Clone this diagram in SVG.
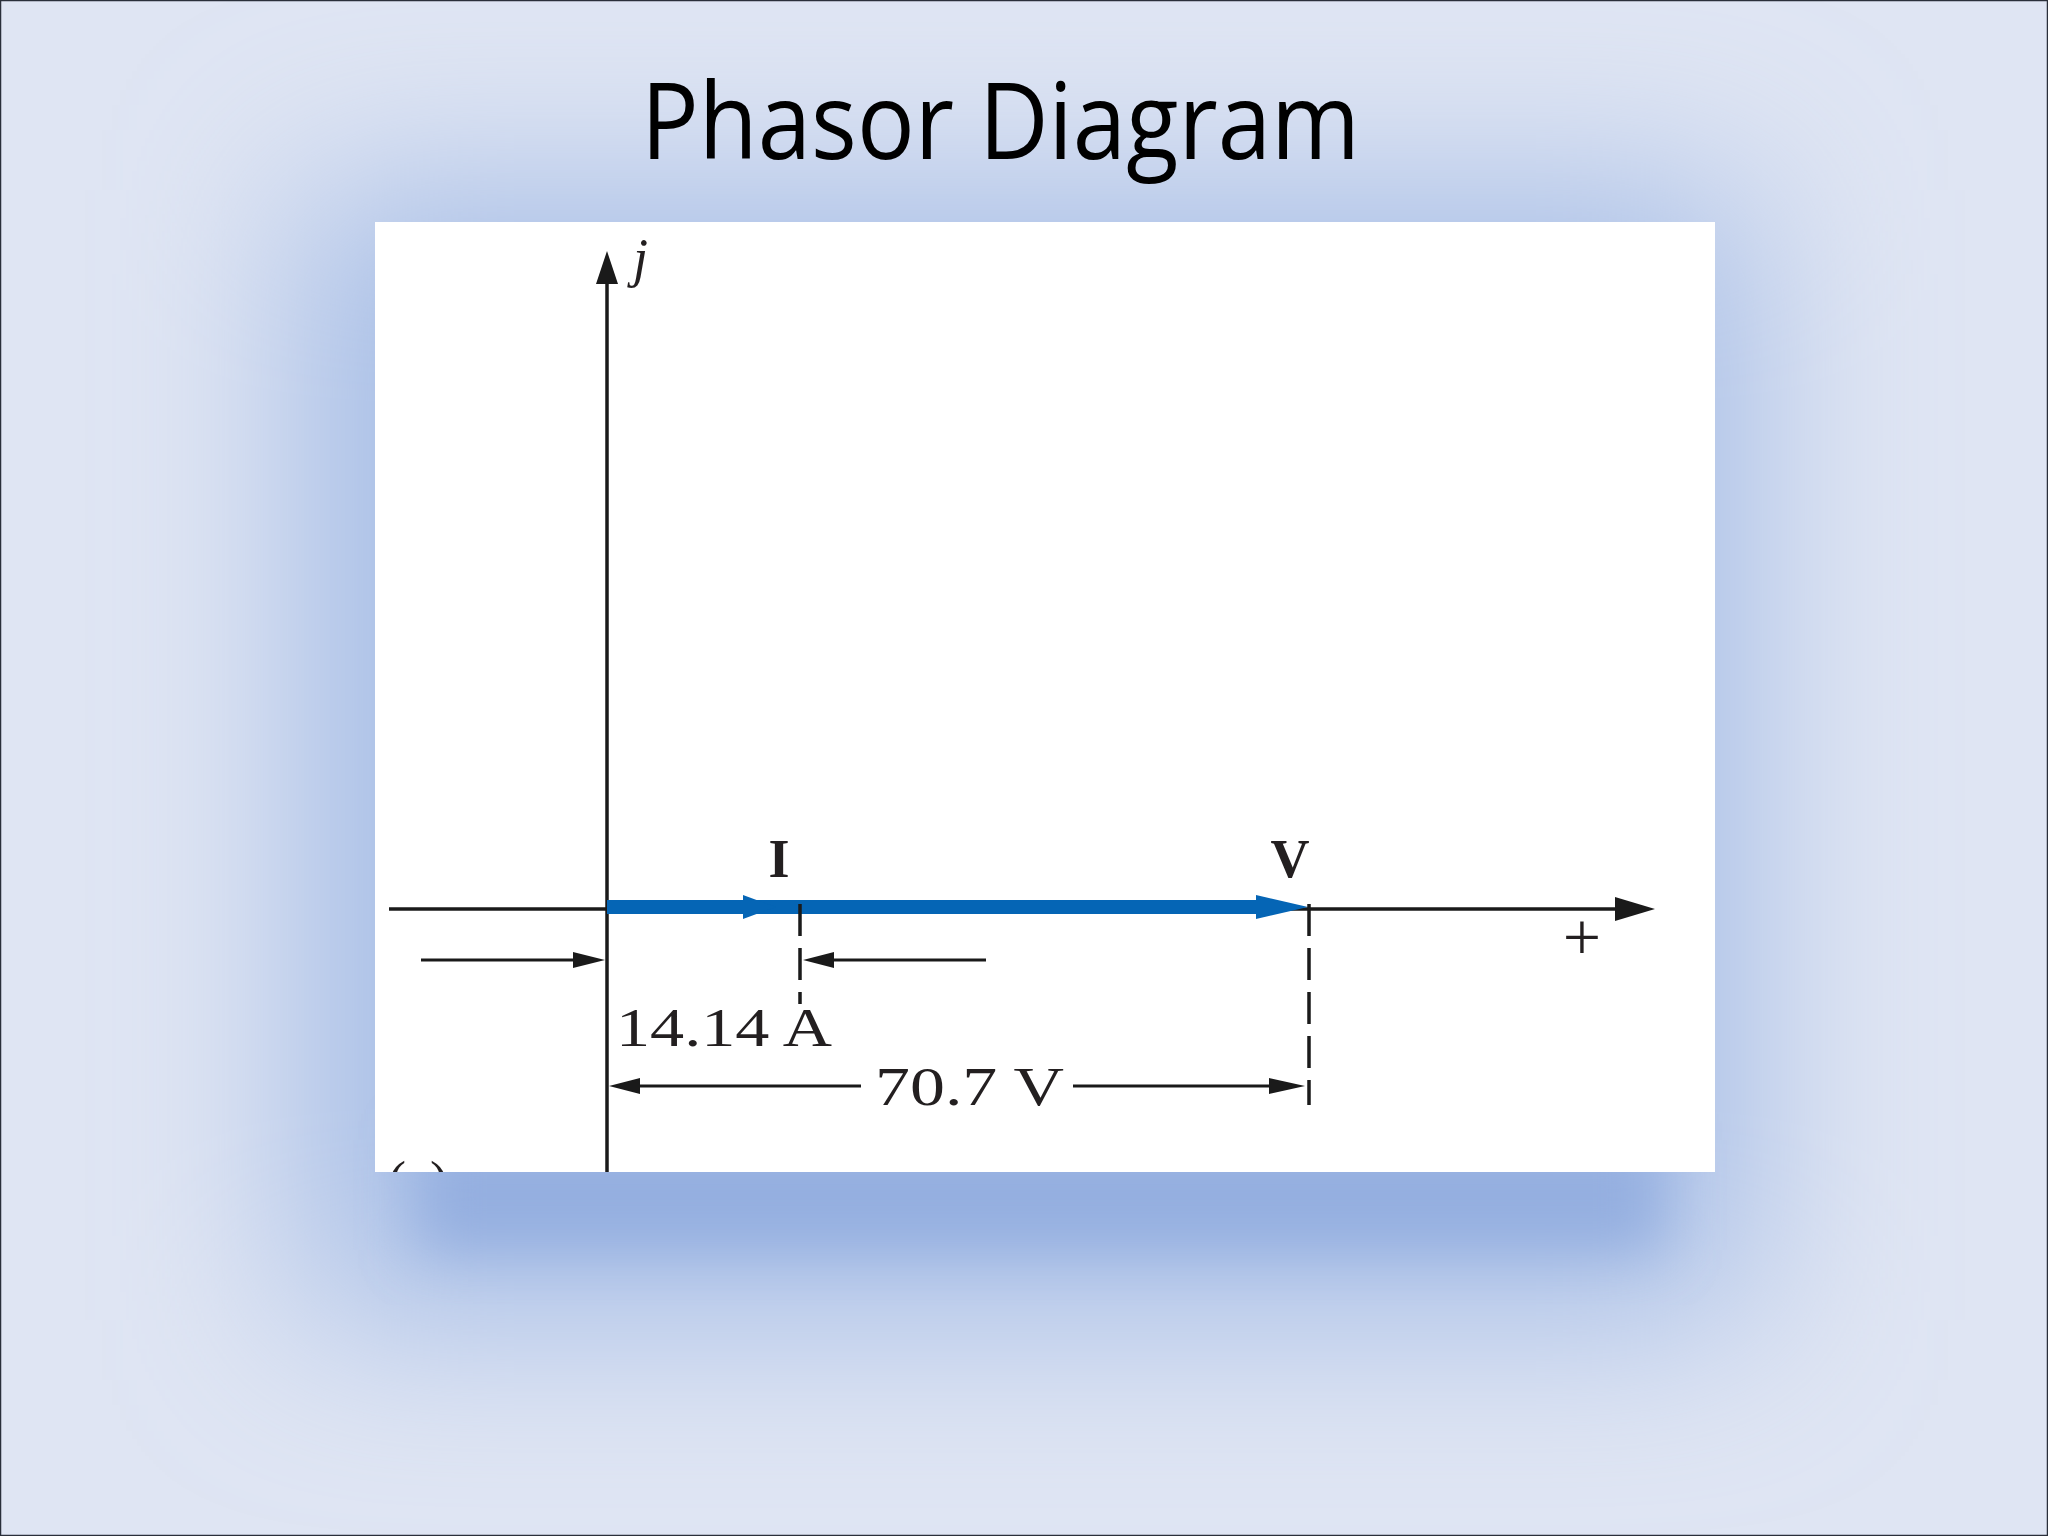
<svg xmlns="http://www.w3.org/2000/svg" width="2048" height="1536" viewBox="0 0 2048 1536">
  <defs>
    <filter id="glow" x="-50%" y="-50%" width="200%" height="200%">
      <feGaussianBlur stdDeviation="90"/>
    </filter>
    <filter id="shadow" x="-50%" y="-50%" width="200%" height="200%">
      <feGaussianBlur stdDeviation="28"/>
    </filter>
    <clipPath id="plotClip">
      <rect x="375" y="222" width="1340" height="950"/>
    </clipPath>
    <style>
      .axis { stroke: #1a1a1a; stroke-width: 3.5; fill: none; }
      .dim { stroke: #1a1a1a; stroke-width: 3; fill: none; }
      .dash { stroke: #1a1a1a; stroke-width: 3.5; fill: none; stroke-dasharray: 32 12; }
      .head { fill: #1a1a1a; }
      .phasor { stroke: #0565b5; stroke-width: 14; fill: none; }
      .bhead { fill: #0565b5; }
      .lbl { font-family: "Liberation Serif", "Times New Roman", serif; fill: #231f20; }
    </style>
  </defs>

  <!-- background -->
  <rect x="0" y="0" width="2048" height="1536" fill="#dfe5f3"/>
  <rect x="300" y="190" width="1450" height="1130" fill="#a6bde6" filter="url(#glow)"/>
  <rect x="420" y="1140" width="1240" height="110" fill="#94afe0" filter="url(#shadow)"/>
  <rect x="0.5" y="0.5" width="2047" height="1535" fill="none" stroke="#2a2f3a" stroke-width="1.5"/>

  <!-- title -->
  <text id="title" x="641" y="159" font-family="'Open Sans', 'Noto Sans', sans-serif" font-size="106" textLength="719" lengthAdjust="spacingAndGlyphs" fill="#000">Phasor Diagram</text>

  <!-- plot panel -->
  <rect id="panel" x="375" y="222" width="1340" height="950" fill="#ffffff"/>

  <g id="connectors">
    <!-- vertical j axis -->
    <line class="axis" x1="607" y1="278" x2="607" y2="1172"/>
    <polygon class="head" points="607,251 596,284 618,284"/>
    <!-- horizontal real axis -->
    <line class="axis" x1="389" y1="909" x2="1620" y2="909"/>
    <polygon class="head" points="1655,909 1615,897 1615,921"/>
    <!-- phasors -->
    <line class="phasor" x1="607" y1="907" x2="1270" y2="907"/>
    <polygon class="bhead" points="776,907 743,895 743,919"/>
    <polygon class="bhead" points="1308,907 1256,895 1256,919"/>
    <!-- dashed projections -->
    <line class="dash" x1="800" y1="904" x2="800" y2="1004"/>
    <line class="dash" x1="1309" y1="904" x2="1309" y2="1105"/>
    <!-- 14.14 A dimension arrows -->
    <line class="dim" x1="421" y1="960" x2="580" y2="960"/>
    <polygon class="head" points="605,960 573,952 573,968"/>
    <line class="dim" x1="825" y1="960" x2="986" y2="960"/>
    <polygon class="head" points="803,960 834,952 834,968"/>
    <!-- 70.7 V dimension arrows -->
    <line class="dim" x1="635" y1="1086" x2="861" y2="1086"/>
    <polygon class="head" points="609,1086 640,1078 640,1094"/>
    <line class="dim" x1="1073" y1="1086" x2="1275" y2="1086"/>
    <polygon class="head" points="1305,1086 1269,1078 1269,1094"/>
  </g>

  <g id="label-j"><text class="lbl" x="633" y="276" font-size="54" font-style="italic">j</text></g>
  <g id="label-I"><text class="lbl" x="779" y="877" font-size="54" font-weight="bold" text-anchor="middle">I</text></g>
  <g id="label-V"><text class="lbl" x="1290" y="877" font-size="54" font-weight="bold" text-anchor="middle">V</text></g>
  <g id="label-plus"><text class="lbl" x="1582" y="960" font-size="68" text-anchor="middle">+</text></g>
  <g id="label-I-mag"><text class="lbl" x="616" y="1046" font-size="55" textLength="216" lengthAdjust="spacingAndGlyphs">14.14 A</text></g>
  <g id="label-V-mag"><text class="lbl" x="875" y="1105" font-size="55" textLength="189" lengthAdjust="spacingAndGlyphs">70.7 V</text></g>
  <g id="label-a" clip-path="url(#plotClip)"><text class="lbl" x="388" y="1199" font-size="54">(a)</text></g>
</svg>
